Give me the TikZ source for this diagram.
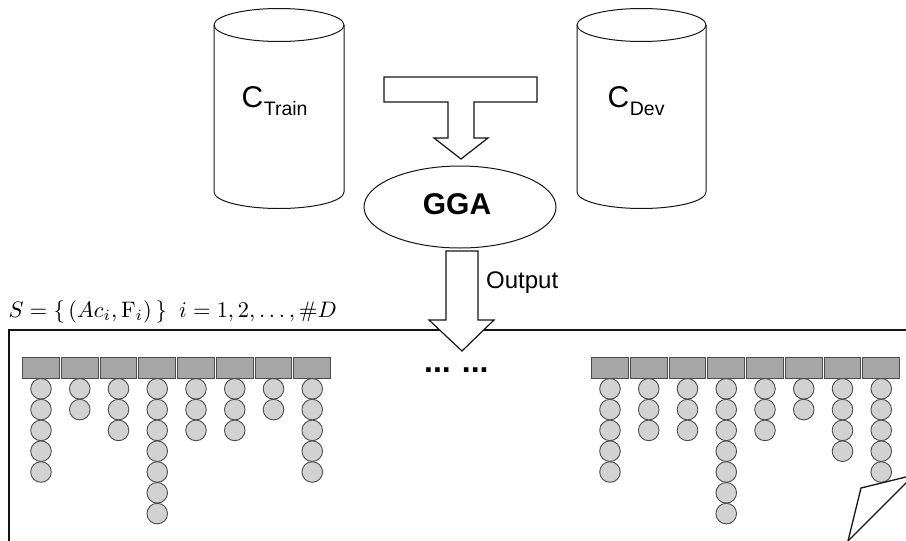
\documentclass[tikz,border=0pt]{standalone}
\usepackage{graphicx}
\usepackage{fontspec}
\newfontfamily\arialfont{Liberation Sans}
\usetikzlibrary{shapes.geometric}
\definecolor{rectfill}{RGB}{166,166,166}
\definecolor{circfill}{RGB}{210,210,210}
\definecolor{edgegray}{RGB}{75,75,75}
\definecolor{ink}{RGB}{20,20,20}
\tikzset{
  bar/.style={draw=edgegray, fill=rectfill, line width=0.9pt, minimum width=36.8pt, minimum height=21pt, inner sep=0pt},
  ball/.style={draw=edgegray, fill=circfill, line width=0.9pt, circle, minimum size=20.6pt, inner sep=0pt},
  blockarrow/.style={draw=ink, fill=white, line width=1.2pt, line join=miter},
  cylline/.style={draw=ink, line width=1pt},
  boxline/.style={draw=ink, line width=1.4pt},
}
\begin{document}
\begin{tikzpicture}[x=1pt,y=-1pt]
\useasboundingbox (0,0) rectangle (906,541);
% cylinders
\draw[cylline] (214,25) -- (214,192) arc[start angle=180, end angle=360, x radius=65pt, y radius=16.5pt] -- (344,25);
\draw[cylline] (279,25) ellipse [x radius=65pt, y radius=16.5pt];
\draw[cylline] (577,25) -- (577,192) arc[start angle=180, end angle=360, x radius=64.5pt, y radius=16.5pt] -- (706,25);
\draw[cylline] (641.5,25) ellipse [x radius=64.5pt, y radius=16.5pt];
\node[anchor=base west, inner sep=0pt, font=\arialfont] (ctrain) at (241.5,107) {\fontsize{30}{30}\selectfont C\kern0.5pt\raisebox{-8pt}{\fontsize{19.5}{19.5}\selectfont Train}};
\node[anchor=base west, inner sep=0pt, font=\arialfont] (cdev) at (607.5,107) {\fontsize{30}{30}\selectfont C\kern0.5pt\raisebox{-8pt}{\fontsize{19.5}{19.5}\selectfont Dev}};
% GGA
\node[draw=ink, line width=1pt, ellipse, minimum width=192pt, minimum height=82pt, inner sep=0pt] (gga) at (460,207) {};
\node[inner sep=0pt, font=\arialfont\bfseries\fontsize{30}{30}\selectfont] (ggatext) at (457,204.5) {GGA};
% merge arrow
\draw[blockarrow] (384,77) -- (537,77) -- (537,102) -- (474,102) -- (474,138) -- (488,138) -- (461,159) -- (434,138) -- (448,138) -- (448,102) -- (384,102) -- cycle;
% result box
\coordinate (boxtl) at (9,330);
\coordinate (boxtr) at (906,330);
\coordinate (boxbl) at (9,541);
\draw[boxline] (boxbl) -- (boxtl) -- (boxtr);
\node[anchor=base west, inner sep=0pt] (setlabel) at (8.5,317) {\resizebox{328pt}{!}{$S=\{\,(Ac_i,\mathrm{F}_i)\,\}\;\; i=1,2,\ldots,\#D$}};
% output arrow
\draw[blockarrow] (446,251) -- (478,251) -- (478,320) -- (494,320) -- (462,351) -- (429,320) -- (446,320) -- cycle;
\node[anchor=west, inner sep=0pt, font=\arialfont\fontsize{24}{24}\selectfont] (outlabel) at (486,283) {Output};
% ellipsis
\node[anchor=base west, inner sep=0pt, font=\arialfont\bfseries\fontsize{32}{32}\selectfont] (dots) at (424,372) {...\hspace{11pt}...};
% columns
\foreach \i/\n in {1/5,2/2,3/3,4/7,5/3,6/3,7/2,8/5} {
  \pgfmathsetmacro{\cx}{41+38.75*(\i-1)}
  \foreach \j in {1,...,\n} {
    \node[ball] (L\i-\j) at (\cx,{388.8+20.8*(\j-1)}) {};
  }
  \node[bar] (L\i) at (\cx,368) {};
}
\foreach \i/\n in {1/5,2/3,3/3,4/7,5/3,6/2,7/4,8/5} {
  \pgfmathsetmacro{\cx}{610+38.75*(\i-1)}
  \foreach \j in {1,...,\n} {
    \node[ball] (R\i-\j) at (\cx,{388.8+20.8*(\j-1)}) {};
  }
  \node[bar] (R\i) at (\cx,368) {};
}
% page curl
\coordinate (curlA) at (848,541);
\coordinate (curlB) at (861,488);
\coordinate (curlC) at (908,476.5);
\coordinate (curlD) at (908,481);
\draw[ink, line width=1.3pt, line join=miter] (curlA) -- (curlB) -- (curlC);
\draw[ink, line width=1.3pt] (curlA) -- (curlD);
\end{tikzpicture}
\end{document}
